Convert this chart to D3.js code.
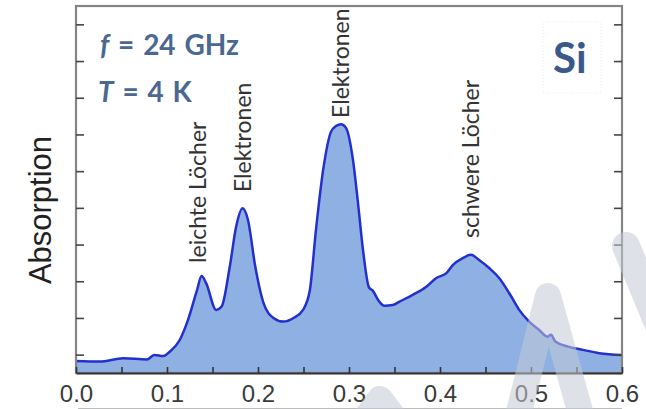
<!DOCTYPE html>
<html>
<head>
<meta charset="utf-8">
<script src="https://cdn.jsdelivr.net/npm/d3@7"></script>
<style>
  html, body { margin: 0; padding: 0; background: #fff; }
  svg { display: block; }
</style>
</head>
<body>
<svg id="chart" width="646" height="409"></svg>
<script>
// Magnetic field axis (arbitrary units, 0 … 0.6)
const fieldValues = [
  0.000, 0.026, 0.052, 0.078, 0.086, 0.096, 0.103, 0.114, 0.123, 0.133,
  0.138, 0.143, 0.154, 0.160, 0.169, 0.176, 0.183, 0.189, 0.197, 0.206,
  0.217, 0.228, 0.239, 0.2495, 0.257, 0.2637, 0.2714, 0.2802, 0.2857, 0.2912,
  0.2967, 0.3044, 0.3099, 0.3154, 0.322, 0.326, 0.332, 0.339, 0.348, 0.355,
  0.370, 0.385, 0.396, 0.407, 0.414, 0.425, 0.434, 0.443, 0.454, 0.465,
  0.476, 0.487, 0.498, 0.509, 0.518, 0.522, 0.527, 0.541, 0.557, 0.575,
  0.600
];
// Cyclotron resonance absorption signal
const absorptionValues = [
  0.33, 0.31, 0.40, 0.37, 0.49, 0.46, 0.58, 0.90, 1.44, 2.26,
  2.64, 2.45, 1.72, 1.81, 2.90, 3.99, 4.49, 4.17, 2.90, 1.91,
  1.50, 1.40, 1.50, 1.72, 2.26, 3.90, 5.50, 6.57, 6.73, 6.78,
  6.68, 5.80, 4.63, 3.35, 2.33, 2.25, 1.99, 1.83, 1.85, 1.94,
  2.13, 2.35, 2.59, 2.72, 2.94, 3.13, 3.22, 3.08, 2.86, 2.59,
  2.18, 1.72, 1.40, 1.17, 0.99, 1.04, 0.85, 0.72, 0.63, 0.54,
  0.49
];
const xTickValues = [0.0, 0.1, 0.2, 0.3, 0.4, 0.5, 0.6];
const xMinorTickValues = [0.05, 0.15, 0.25, 0.35, 0.45, 0.55];
const yTickValues = [0.5, 1.5, 2.5, 3.5, 4.5, 5.5, 6.5, 7.5, 8.5, 9.5];

// Peak annotations: label text, field position and lower end of each label
const peakLabels = ["leichte Löcher", "Elektronen", "Elektronen", "schwere Löcher"];
const peakFields = [0.1425, 0.1923, 0.300, 0.4429];
const peakLabelBases = [3.0, 4.93, 6.95, 3.68];

const data = fieldValues.map((f, i) => ({ f, a: absorptionValues[i] }));

const svg = d3.select("#chart");
const plotLeft = 76, plotRight = 622, plotTop = 6, plotBottom = 373;

const x = d3.scaleLinear().domain([0, 0.6]).range([plotLeft, plotRight]);
const y = d3.scaleLinear().domain([0, 10]).range([plotBottom, plotTop]);

// filled spectrum
const area = d3.area()
  .x(d => x(d.f))
  .y0(y(0))
  .y1(d => y(d.a))
  .curve(d3.curveMonotoneX);
const line = d3.line()
  .x(d => x(d.f))
  .y(d => y(d.a))
  .curve(d3.curveMonotoneX);

svg.append("path")
  .datum(data)
  .attr("d", area)
  .attr("fill", "#8fb0e2");

svg.append("path")
  .datum(data)
  .attr("d", line)
  .attr("fill", "none")
  .attr("stroke", "#2330cc")
  .attr("stroke-width", 2.5)
  .attr("stroke-linejoin", "round");

// frame
svg.append("rect")
  .attr("x", plotLeft).attr("y", plotTop)
  .attr("width", plotRight - plotLeft).attr("height", plotBottom - plotTop)
  .attr("fill", "none")
  .attr("stroke", "#858585")
  .attr("stroke-width", 2.2);

// bottom axis with inward ticks
const xAxis = d3.axisBottom(x)
  .tickValues(xTickValues)
  .tickSizeInner(-6).tickSizeOuter(0)
  .tickPadding(12)
  .tickFormat(d3.format(".1f"));
const gx = svg.append("g").attr("transform", `translate(0,${plotBottom})`).call(xAxis);
gx.select(".domain").attr("stroke", "#333").attr("stroke-width", 2.2);
gx.selectAll(".tick line").attr("stroke", "#333").attr("stroke-width", 1.6);
gx.selectAll(".tick text")
  .attr("fill", "#3a3a3a")
  .style("font-family", "'Liberation Sans', Arial, sans-serif")
  .style("font-size", "24px");

const xMinor = d3.axisBottom(x)
  .tickValues(xMinorTickValues)
  .tickSizeInner(-6).tickSizeOuter(0)
  .tickFormat("");
const gxm = svg.append("g").attr("transform", `translate(0,${plotBottom})`).call(xMinor);
gxm.select(".domain").remove();
gxm.selectAll(".tick line").attr("stroke", "#333").attr("stroke-width", 1.6);

// left and right axes: ticks only
const yLeft = d3.axisLeft(y).tickValues(yTickValues).tickSizeInner(-8).tickSizeOuter(0).tickFormat("");
const gyl = svg.append("g").attr("transform", `translate(${plotLeft},0)`).call(yLeft);
gyl.select(".domain").remove();
gyl.selectAll(".tick line").attr("stroke", "#444").attr("stroke-width", 1.6);

const yRight = d3.axisRight(y).tickValues(yTickValues).tickSizeInner(-8).tickSizeOuter(0).tickFormat("");
const gyr = svg.append("g").attr("transform", `translate(${plotRight},0)`).call(yRight);
gyr.select(".domain").remove();
gyr.selectAll(".tick line").attr("stroke", "#444").attr("stroke-width", 1.6);

// y-axis title
svg.append("text")
  .attr("transform", "translate(51,210) rotate(-90)")
  .attr("text-anchor", "middle")
  .attr("fill", "#222")
  .style("font-family", "'Liberation Sans', Arial, sans-serif")
  .style("font-size", "31px")
  .text("Absorption");

// peak labels, rotated, standing above each peak
const labelFont = "Lato, 'Open Sans', sans-serif";
peakLabels.forEach((t, i) => {
  svg.append("text")
    .attr("transform", `translate(${x(peakFields[i])},${y(peakLabelBases[i])}) rotate(-90)`)
    .attr("fill", "#333")
    .style("font-family", labelFont)
    .style("font-size", "23px")
    .text(t);
});

// measurement conditions
const condColor = "#4a6890";
const f1 = svg.append("text")
  .attr("x", 100).attr("y", 55)
  .attr("fill", condColor)
  .style("font-family", labelFont)
  .style("font-weight", "bold")
  .style("font-size", "28px")
  .style("word-spacing", "2px");
f1.append("tspan").style("font-style", "italic").text("f");
f1.append("tspan").text(" = 24 GHz");

const t1 = svg.append("text")
  .attr("x", 98).attr("y", 102)
  .attr("fill", condColor)
  .style("font-family", labelFont)
  .style("font-weight", "bold")
  .style("font-size", "28px")
  .style("word-spacing", "2px");
t1.append("tspan").style("font-style", "italic").text("T");
t1.append("tspan").text(" = 4 K");

// material label
svg.append("rect")
  .attr("x", 543).attr("y", 22).attr("width", 58).attr("height", 71)
  .attr("fill", "none")
  .attr("stroke", "#f1ece4")
  .attr("stroke-dasharray", "1,2");
svg.append("text")
  .attr("x", 553).attr("y", 73)
  .attr("fill", "#38598a")
  .style("font-family", labelFont)
  .style("font-weight", "bold")
  .style("font-size", "42px")
  .text("Si");

// thin rule along the lower edge
svg.append("line")
  .attr("x1", 78).attr("x2", 622)
  .attr("y1", 408.5).attr("y2", 408.5)
  .attr("stroke", "#bcbcbc")
  .attr("stroke-width", 1);

// translucent watermark strokes
const wm = svg.append("g")
  .attr("fill", "none")
  .attr("stroke", "#c3cad6")
  .attr("stroke-opacity", 0.55)
  .attr("stroke-linejoin", "round")
  .attr("stroke-linecap", "round");
wm.append("path").attr("d", "M345,445 L380,399 L415,445").attr("stroke-width", 26);
wm.append("path").attr("d", "M512,440 L548,296 L588,440").attr("stroke-width", 26);
wm.append("path").attr("d", "M626,246 L670,352").attr("stroke-width", 28);
</script>
</body>
</html>
